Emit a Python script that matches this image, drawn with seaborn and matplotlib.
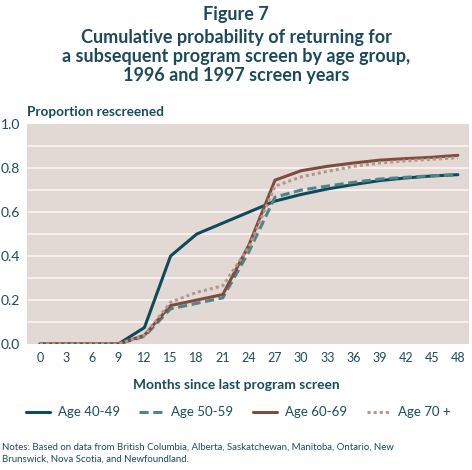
import numpy as np
import pandas as pd
import seaborn as sns
import matplotlib.pyplot as plt

months = [0, 3, 6, 9, 12, 15, 18, 21, 24, 27, 30, 33, 36, 39, 42, 45, 48]
age_40_49 = [0, 0, 0, 0, 0.075, 0.40, 0.50, 0.55, 0.60, 0.65, 0.68, 0.705, 0.725, 0.743, 0.755, 0.764, 0.77]
age_50_59 = [0, 0, 0, 0, 0.035, 0.16, 0.185, 0.21, 0.42, 0.668, 0.70, 0.718, 0.735, 0.75, 0.758, 0.765, 0.77]
age_60_69 = [0, 0, 0, 0, 0.04, 0.175, 0.20, 0.225, 0.45, 0.745, 0.788, 0.808, 0.823, 0.836, 0.843, 0.849, 0.858]
age_70_up = [0, 0, 0, 0, 0.04, 0.19, 0.235, 0.265, 0.44, 0.718, 0.76, 0.785, 0.808, 0.823, 0.833, 0.84, 0.847]
groups = ['Age 40-49', 'Age 50-59', 'Age 60-69', 'Age 70 +']

df = pd.DataFrame({'Months': months * 4,
                   'Proportion': age_40_49 + age_50_59 + age_60_69 + age_70_up,
                   'Group': np.repeat(groups, len(months))})

txt = '#1b4a5a'
pal = {'Age 40-49': '#0f4a5c', 'Age 50-59': '#4d8588',
       'Age 60-69': '#7d4e3e', 'Age 70 +': '#b4968c'}
dashes = {'Age 40-49': '', 'Age 50-59': (3, 1.5),
          'Age 60-69': '', 'Age 70 +': (1, 1)}

sns.set_style('white')
plt.rcParams['font.family'] = ['Lato', 'DejaVu Sans']

fig = plt.figure(figsize=(4.72, 4.70), dpi=100)
ax = fig.add_axes([0.057, 0.268, 0.937, 0.468])
ax.set_facecolor('#e2d9d5')

sns.lineplot(data=df, x='Months', y='Proportion', hue='Group', style='Group',
             palette=pal, dashes=dashes, linewidth=2.2, ax=ax, legend=False)

ax.set_xlim(-1.5, 49.3)
ax.set_ylim(0, 1.0)
ax.set_yticks(np.arange(0, 1.01, 0.2))
ax.set_yticklabels(['%.1f' % v for v in np.arange(0, 1.01, 0.2)])
ax.set_xticks(months)
ax.set_xticks(np.arange(1.5, 48, 3), minor=True)
for y in np.arange(0.1, 1.0, 0.1):
    ax.axhline(y, color='#f8eeec', lw=1.5, zorder=0.5)
ax.tick_params(axis='x', which='both', direction='in', length=9, width=1,
               color='white', labelsize=9, labelcolor=txt, pad=6)
ax.tick_params(axis='y', which='both', length=0, labelsize=10, labelcolor=txt, pad=5)
for s in ax.spines.values():
    s.set_visible(False)
ax.set_xlabel('')
ax.set_ylabel('')

fig.text(0.5, 0.97, 'Figure 7', ha='center', va='center', fontsize=13,
         fontweight='bold', color=txt)
fig.text(0.5, 0.879, 'Cumulative probability of returning for\n'
         'a subsequent program screen by age group,\n1996 and 1997 screen years',
         ha='center', va='center', fontsize=13, fontweight='bold', color=txt,
         linespacing=1.15)
fig.text(0.057, 0.762, 'Proportion rescreened', ha='left', va='center',
         fontsize=9.8, fontweight='bold', color=txt)
fig.text(0.5, 0.181, 'Months since last program screen', ha='center', va='center',
         fontsize=9.9, fontweight='bold', color=txt)

handles = [plt.Line2D([], [], color=pal[g], lw=2.2,
                      dashes=dashes[g] if dashes[g] else (None, None)) for g in groups]
handles[0].set_linestyle('-')
handles[2].set_linestyle('-')
fig.legend(handles, groups, loc='center', bbox_to_anchor=(0.505, 0.123), ncol=4,
           frameon=False, fontsize=9.5, labelcolor=txt, handlelength=1.8,
           columnspacing=1.5, handletextpad=0.6)

fig.text(0.004, 0.035, 'Notes: Based on data from British Columbia, Alberta, Saskatchewan, '
         'Manitoba, Ontario, New\nBrunswick, Nova Scotia, and Newfoundland.',
         ha='left', va='center', fontsize=6.9, color=txt, linespacing=1.4)

fig.savefig('out.png', dpi=100)
